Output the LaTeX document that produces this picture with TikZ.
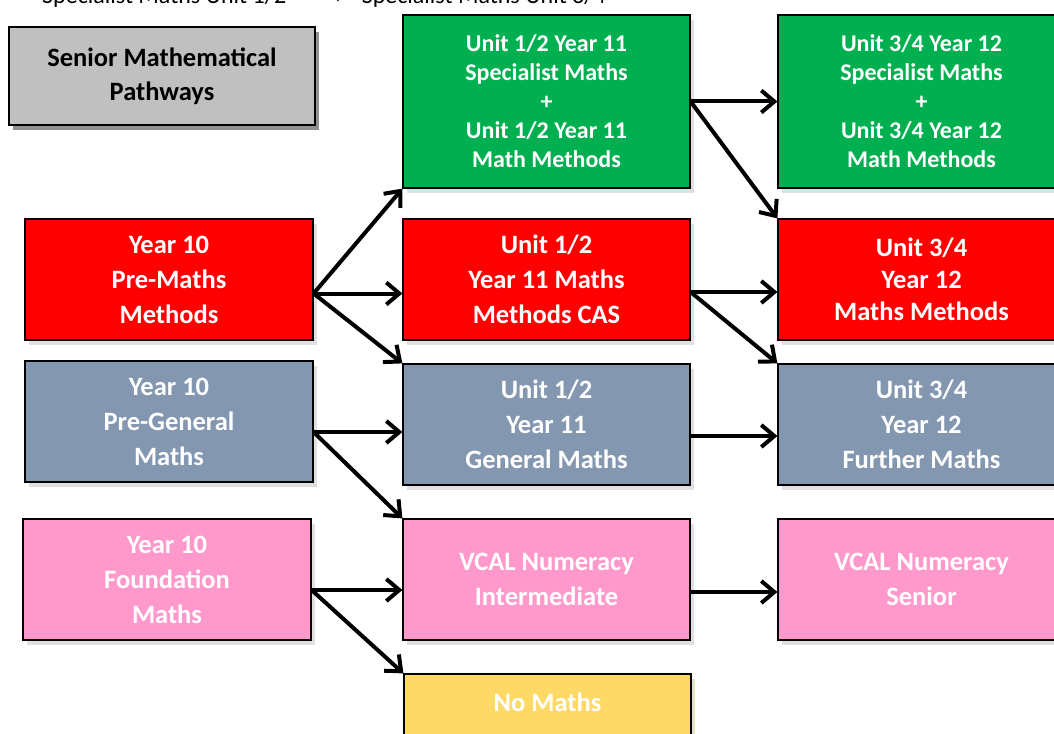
\documentclass[tikz,border=0pt]{standalone}
\usepackage{fontspec}
\setmainfont{Carlito}
\newfontfamily\symfont{DejaVu Sans}
\usetikzlibrary{arrows.meta,shadows,calc}
\definecolor{cgreen}{HTML}{00B050}
\definecolor{cred}{HTML}{FF0000}
\definecolor{cblue}{HTML}{8497B0}
\definecolor{cpink}{HTML}{FF99CC}
\definecolor{cyellow}{HTML}{FFD966}
\definecolor{ctitle}{HTML}{C0C0C0}
\begin{document}
\begin{tikzpicture}[x=1pt,y=-1pt,
  box/.style={draw=black, line width=1.2pt, inner sep=0pt, align=center,
    text=white, font=\bfseries\fontsize{26.5}{35}\selectfont,
    drop shadow={shadow xshift=4pt, shadow yshift=-5pt, opacity=0.12, fill=black}},
  gbox/.style={box, fill=cgreen, font=\bfseries\fontsize{24}{29}\selectfont},
  wA/.style={minimum width=288pt, minimum height=121pt},
  wB/.style={minimum width=287pt, minimum height=121pt},
  arr/.style={line width=4pt, -{Straight Barb[length=13pt,width=22pt,line width=4pt]}}
]
\useasboundingbox (0,0) rectangle (1054,733);
\fill[white] (0,0) rectangle (1054,733);

% clipped top line
\node[anchor=base west, inner sep=0pt, font=\fontsize{24}{28}\selectfont] (toptext) at (42,4)
  {Specialist Maths Unit 1/2\hspace{42pt}{\symfont\fontsize{16}{18}\selectfont →}\hspace{20pt}Specialist Maths Unit 3/4};

% title
\node[box, fill=ctitle, text=black, line width=2pt, minimum width=306pt, minimum height=98pt,
  font=\bfseries\fontsize{26.5}{34}\selectfont,
  drop shadow={shadow xshift=4pt, shadow yshift=-5pt, opacity=0.35, fill=black}]
  (title) at (162,76) {Senior Mathematical\\Pathways};

% green row
\node[gbox, minimum width=287pt, minimum height=173pt] (g1) at (546.5,101.5)
  {Unit 1/2 Year 11\\Specialist Maths\\+\\Unit 1/2 Year 11\\Math Methods};
\node[gbox, minimum width=287pt, minimum height=173pt] (g2) at (921.5,101.5)
  {Unit 3/4 Year 12\\Specialist Maths\\+\\Unit 3/4 Year 12\\Math Methods};

% red row
\node[box, wA, fill=cred] (r1) at (169,279.5) {Year 10\\Pre-Maths\\Methods};
\node[box, wB, fill=cred] (r2) at (546.5,279.5) {Unit 1/2\\Year 11 Maths\\Methods CAS};
\node[box, wB, fill=cred, font=\bfseries\fontsize{26.5}{32}\selectfont] (r3) at (921.5,279.5) {Unit 3/4\\Year 12\\Maths Methods};

% blue-grey row
\node[box, wA, fill=cblue] (b1) at (169,421.5) {Year 10\\Pre-General\\Maths};
\node[box, wB, fill=cblue] (b2) at (546.5,424.5) {Unit 1/2\\Year 11\\General Maths};
\node[box, wB, fill=cblue] (b3) at (921.5,424.5) {Unit 3/4\\Year 12\\Further Maths};

% pink row
\node[box, wA, fill=cpink] (p1) at (167,579.5) {Year 10\\Foundation\\Maths};
\node[box, wB, fill=cpink] (p2) at (546.5,579.5) {VCAL Numeracy\\Intermediate};
\node[box, wB, fill=cpink] (p3) at (921.5,579.5) {VCAL Numeracy\\Senior};

% no maths (cut off at bottom)
\node[box, fill=cyellow, minimum width=287pt, minimum height=90pt,
  label={[anchor=center, yshift=-29pt, text=white, font=\bfseries\fontsize{26.5}{35}\selectfont]north:No Maths}]
  (nm) at (547.5,719) {};

% arrows
\coordinate (r1o) at ($(r1.east)+(0,14)$);
\draw[arr] (r1o) -- (g1.south west);
\draw[arr] (r1o) -- (r1o -| r2.west);
\draw[arr] (r1o) -- (b2.north west);

\coordinate (b1o) at ($(b1.east)+(0,10.5)$);
\draw[arr] (b1o) -- (b1o -| b2.west);
\draw[arr] (b1o) -- (p2.north west);

\coordinate (p1o) at ($(p1.east)+(0,10.5)$);
\draw[arr] (p1o) -- (p1o -| p2.west);
\draw[arr] (p1o) -- (nm.north west);

\draw[arr] (g1.east) -- (g2.west);
\draw[arr] (g1.east) -- (r3.north west);

\coordinate (r2o) at ($(r2.east)+(0,12.5)$);
\draw[arr] (r2o) -- (r2o -| r3.west);
\draw[arr] (r2o) -- (b3.north west);

\coordinate (b2o) at ($(b2.east)+(0,11.5)$);
\draw[arr] (b2o) -- (b2o -| b3.west);

\coordinate (p2o) at ($(p2.east)+(0,12.5)$);
\draw[arr] (p2o) -- (p2o -| p3.west);
\end{tikzpicture}
\end{document}
